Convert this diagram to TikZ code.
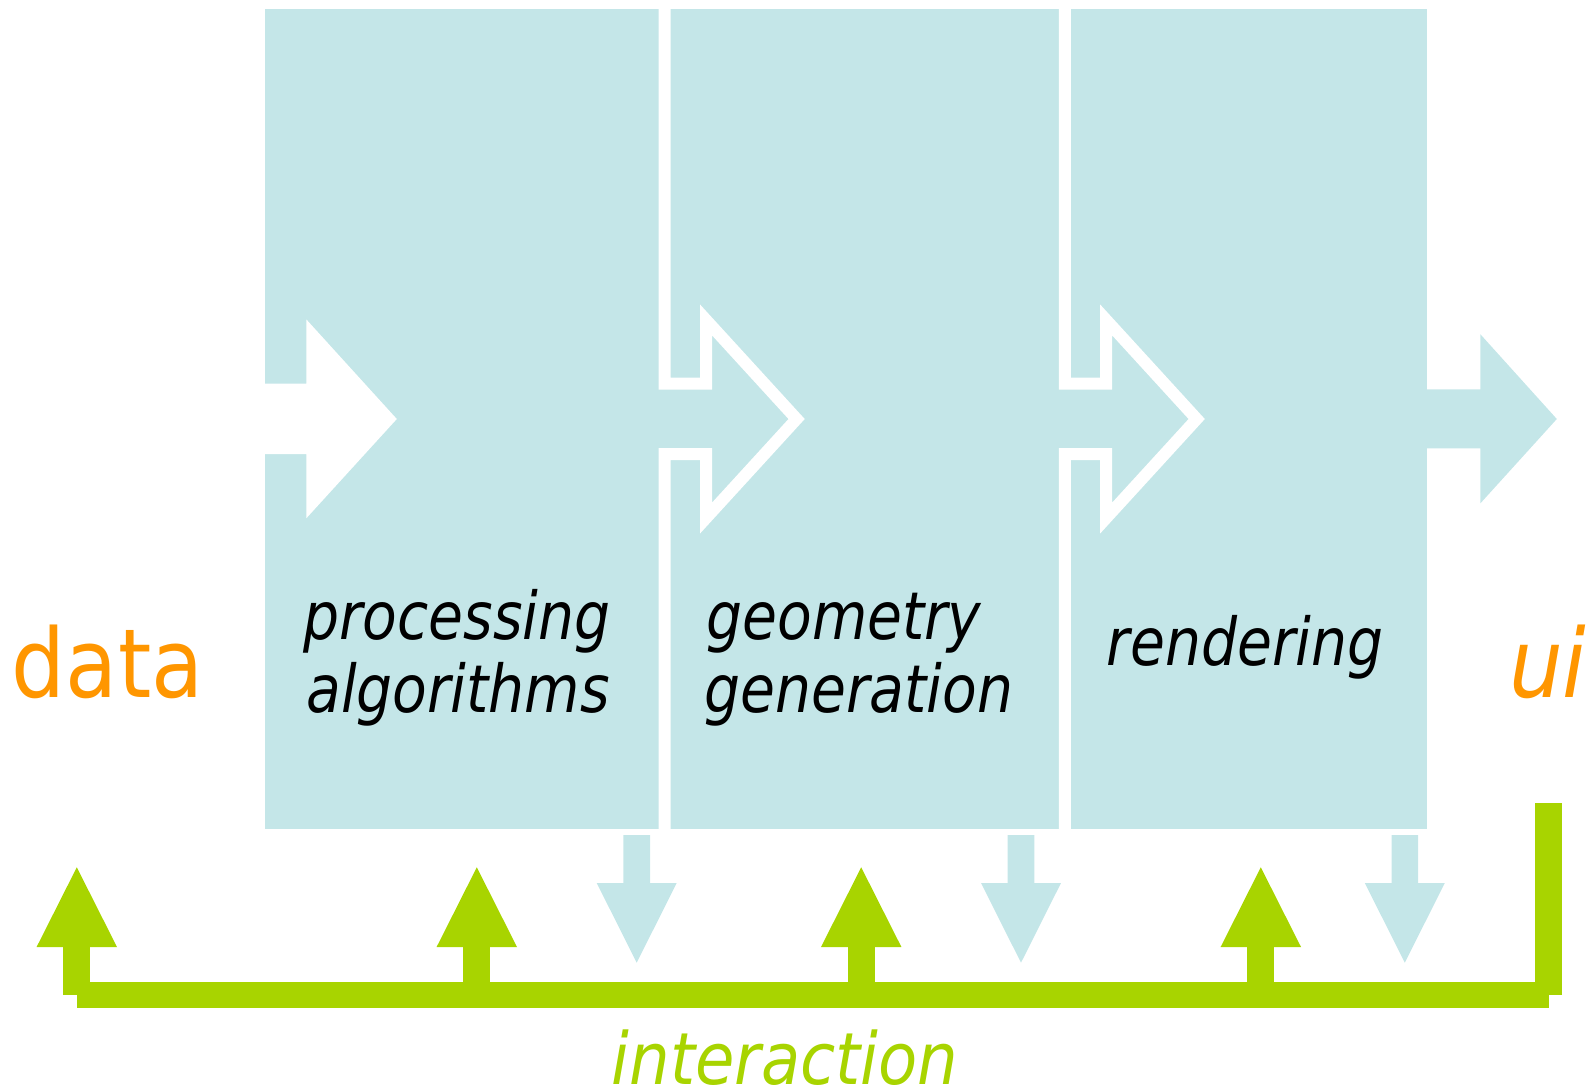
\documentclass[tikz,border=0pt]{standalone}
\usepackage{fontspec}
\setmainfont{DejaVu Sans}[FakeStretch=0.86]
\newfontfamily\widefont{DejaVu Sans}[FakeStretch=0.89]
\definecolor{lblue}{RGB}{196,230,232}
\definecolor{igreen}{RGB}{168,212,0}
\definecolor{dorange}{RGB}{255,150,0}
\begin{document}
\begin{tikzpicture}[x=1pt,y=-1pt,
  whiteline/.style={draw=white,line width=12pt,line join=miter,miter limit=10,line cap=butt},
  greenline/.style={draw=igreen,line width=26.7pt,line cap=butt},
  lbl/.style={inner sep=0pt,outer sep=0pt},
  boxtext/.style={lbl,text=black,font=\fontsize{66}{66}\selectfont\itshape,anchor=base},
  endtext/.style={lbl,text=dorange,font=\widefont\fontsize{95.5}{95.5}\selectfont,anchor=base west}]
\useasboundingbox (0,0) rectangle (1590,1092);
% blue stage area and output arrow
\fill[lblue] (265,9) rectangle (1427,829);
\fill[lblue] (1420,389.3) -- (1480.4,389.3) -- (1480.4,334.3) -- (1556.8,419)
  -- (1480.4,503.3) -- (1480.4,448.3) -- (1420,448.3) -- cycle;
% white input arrow
\fill[white] (258,383.6) -- (306.4,383.6) -- (306.4,319.5) -- (396.8,419)
  -- (306.4,518.2) -- (306.4,454.2) -- (258,454.2) -- cycle;
% white separating outlines between stages
\foreach \x in {664.7,1064.8}{
  \draw[whiteline] (\x,3) -- (\x,383.6) -- (\x+41.4,383.6) -- (\x+41.4,320)
    -- (\x+131.9,419) -- (\x+41.4,518) -- (\x+41.4,454.2) -- (\x,454.2) -- (\x,834);
}
% blue down arrows
\foreach \x in {636.7,1021,1404.8}{
  \fill[lblue] (\x-13.3,835) -- (\x+13.3,835) -- (\x+13.3,883) -- (\x+40,883)
    -- (\x,962.7) -- (\x-40,883) -- (\x-13.3,883) -- cycle;
}
% green interaction lines
\coordinate (gl) at (76.8,995);
\coordinate (gr) at (1548.8,995);
\coordinate (gt) at (1548.8,803);
\draw[greenline] (gl) -- (gr);
\draw[greenline] (gr) -- (gt);
\foreach \x/\n in {76.8/a,476.8/b,861.2/c,1260.8/d}{
  \coordinate (gb\n) at (\x,995);
  \coordinate (gh\n) at (\x,946.5);
  \draw[greenline] (gb\n) -- (gh\n);
  \fill[igreen] (\x-40.2,947) -- (\x,867.3) -- (\x+40.2,947) -- cycle;
}
% labels
\node[endtext] (data) at (12,697) {data};
\node[endtext,font=\widefont\fontsize{95.5}{95.5}\selectfont\itshape] (ui) at (1509,697) {ui};
\node[lbl,text=igreen,font=\widefont\fontsize{72}{72}\selectfont\itshape,anchor=base] (inter) at (785,1084) {interaction};
\node[boxtext] (proc) at (457,639) {processing};
\node[boxtext] (algo) at (458,712) {algorithms};
\node[boxtext] (geom) at (844,639) {geometry};
\node[boxtext] (gene) at (859,712) {generation};
\node[boxtext] (rend) at (1245,665) {rendering};
\end{tikzpicture}
\end{document}
